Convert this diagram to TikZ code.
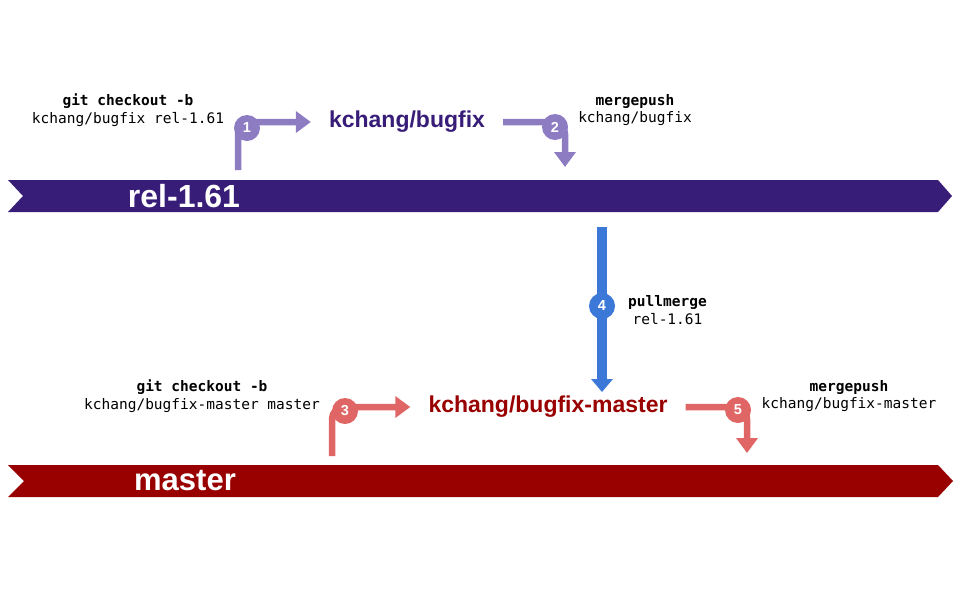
\documentclass[tikz,border=0pt]{standalone}
\usepackage{fontspec}
\setmainfont{Liberation Sans}
\newfontfamily\monof{DejaVu Sans Mono}
\usetikzlibrary{arrows.meta}
\definecolor{relc}{HTML}{371C78}
\definecolor{masc}{HTML}{990000}
\definecolor{lpur}{HTML}{8E7CC3}
\definecolor{lred}{HTML}{E06666}
\definecolor{blu}{HTML}{3C78D8}
\tikzset{
  banner/.style={text=white, font=\fontsize{32}{34}\selectfont\bfseries, inner sep=0pt},
  branch/.style={font=\fontsize{23}{25}\selectfont\bfseries, inner xsep=18pt, inner ysep=0pt},
  cmd/.style={font=\monof\fontsize{14.5}{17.5}\selectfont, align=center, inner sep=0pt},
  stepnum/.style={circle, fill=#1, text=white, minimum size=26pt, inner sep=0pt,
    font=\fontsize{14.5}{14.5}\selectfont\bfseries},
  flow/.style={draw=#1, line width=6.5pt, rounded corners=12pt,
    -{Triangle[length=15pt,width=21pt]}},
}
\begin{document}
\begin{tikzpicture}[x=1pt,y=-1pt]
\useasboundingbox (0,0) rectangle (960,600);
% banners
\fill[relc] (8,180) -- (938,180) -- (952,196) -- (938,212) -- (8,212) -- (23,196) -- cycle;
\fill[masc] (8,465) -- (938,465) -- (953,481) -- (938,497) -- (8,497) -- (24,481) -- cycle;
\node[banner] (rel) at (184,196) {rel-1.61};
\node[banner, font=\fontsize{31}{33}\selectfont\bfseries] (master) at (185,481) {master};
% branch names
\node[branch, text=relc] (bugfix) at (407,122) {kchang/bugfix};
\node[branch, text=masc] (bmaster) at (548,407) {kchang/bugfix-master};
% free ends
\coordinate (s1) at (238,170);
\coordinate (e2) at (565,167);
\coordinate (s3) at (332,456);
\coordinate (e5) at (747,453);
\coordinate (s4) at (602,227);
% connectors
\draw[flow=lpur] (s1) |- (bugfix.west);
\draw[flow=lpur] (bugfix.east) -| (e2);
\draw[flow=lred] (s3) |- (bmaster.west);
\draw[flow=lred] (bmaster.east) -| (e5);
\draw[draw=blu, line width=9.5pt, -{Triangle[length=13pt,width=21pt]}, shorten >=4pt] (s4) -- (s4 |- bmaster.north);
% step numbers
\node[stepnum=lpur] (n1) at (247,128) {1};
\node[stepnum=lpur] (n2) at (555,127) {2};
\node[stepnum=lred] (n3) at (345,411) {3};
\node[stepnum=blu] (n4) at (602,306) {4};
\node[stepnum=lred] (n5) at (738,410) {5};
% commands
\node[cmd] (c1) at (128,110) {\textbf{git checkout -b}\\kchang/bugfix rel-1.61};
\node[cmd] (c2) at (635,110) {\textbf{mergepush}\\kchang/bugfix};
\node[cmd, anchor=west] (c4) at (628,310) {\textbf{pullmerge}\\rel-1.61};
\node[cmd] (c3) at (202,396) {\textbf{git checkout -b}\\kchang/bugfix-master master};
\node[cmd] (c5) at (849,396) {\textbf{mergepush}\\kchang/bugfix-master};
\end{tikzpicture}
\end{document}
